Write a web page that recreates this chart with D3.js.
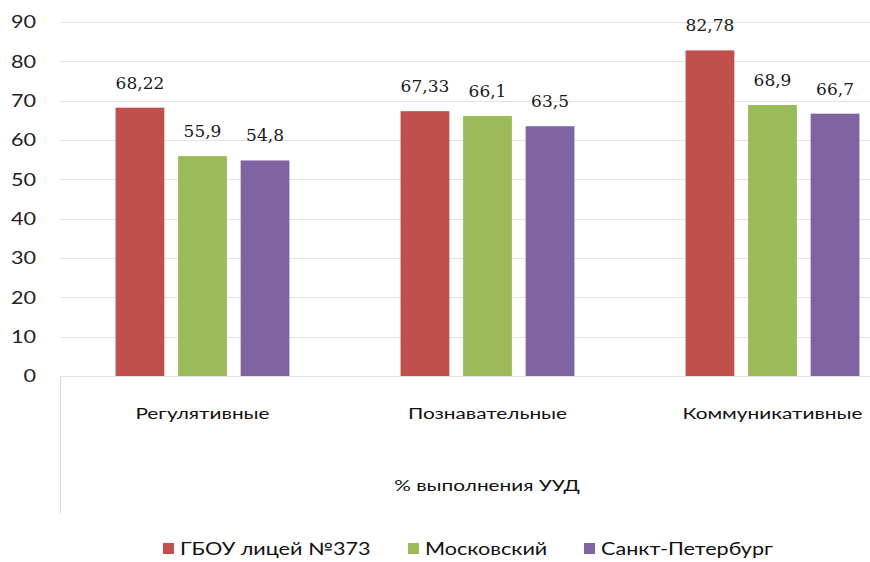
<!DOCTYPE html>
<html>
<head>
<meta charset="utf-8">
<script src="https://cdn.jsdelivr.net/npm/d3@7"></script>
<style>
  body { margin: 0; background: #fff; }
  svg { display: block; }
</style>
</head>
<body>
<div id="chart"></div>
<script>
const categories = ["Регулятивные", "Познавательные", "Коммуникативные"];
const seriesNames = ["ГБОУ лицей №373", "Московский", "Санкт-Петербург"];
const seriesColors = ["#c0504d", "#9bbb59", "#8064a2"];
const valuesLyceum = [68.22, 67.33, 82.78];
const valuesMoscow = [55.9, 66.1, 68.9];
const valuesSpb = [54.8, 63.5, 66.7];
const yTicks = [0, 10, 20, 30, 40, 50, 60, 70, 80, 90];
const axisTitle = "% выполнения УУД";

const width = 870, height = 562;
const margin = { top: 22, left: 60, bottom: 186 };
const sans = "Lato, 'Open Sans', sans-serif";
const stretch = 1.3; // the original text is drawn horizontally stretched

const series = [valuesLyceum, valuesMoscow, valuesSpb];
const data = categories.map((c, i) => ({
  category: c,
  values: series.map((s, j) => ({ name: seriesNames[j], value: s[i], j }))
}));

const svg = d3.select("#chart").append("svg")
  .attr("width", width)
  .attr("height", height);

const y = d3.scaleLinear()
  .domain([0, 90])
  .range([376, margin.top]);

// the plot runs a bit past the right edge of the picture
const x0 = d3.scaleBand()
  .domain(categories)
  .range([margin.left, 915])
  .paddingInner(0)
  .paddingOuter(0);

const x1 = d3.scaleBand()
  .domain(d3.range(series.length))
  .range([0, x0.bandwidth() * 0.61])
  .paddingInner(0.22);

const groupOffset = (x0.bandwidth() - x1.range()[1]) / 2;

// gridlines
svg.append("g")
  .selectAll("line")
  .data(yTicks)
  .join("line")
  .attr("x1", margin.left)
  .attr("x2", width)
  .attr("y1", d => Math.round(y(d)) + 0.5)
  .attr("y2", d => Math.round(y(d)) + 0.5)
  .attr("stroke", "#e3e3e3")
  .attr("stroke-width", 1.2);

// y tick labels
svg.append("g")
  .selectAll("text")
  .data(yTicks)
  .join("text")
  .attr("transform", d => `translate(36,${y(d)}) scale(1.2,1)`)
  .attr("dy", "0.36em")
  .attr("text-anchor", "end")
  .attr("font-family", sans)
  .attr("font-size", 18)
  .attr("fill", "#222")
  .text(d => d);

// vertical axis line of the category axis
svg.append("line")
  .attr("x1", margin.left + 0.5)
  .attr("x2", margin.left + 0.5)
  .attr("y1", y(0))
  .attr("y2", 513)
  .attr("stroke", "#d9d9d9")
  .attr("stroke-width", 1);

const groups = svg.append("g")
  .selectAll("g")
  .data(data)
  .join("g")
  .attr("transform", d => `translate(${x0(d.category) + groupOffset},0)`);

groups.selectAll("rect")
  .data(d => d.values)
  .join("rect")
  .attr("x", d => x1(d.j))
  .attr("y", d => y(d.value))
  .attr("width", x1.bandwidth())
  .attr("height", d => y(0) - y(d.value))
  .attr("fill", d => seriesColors[d.j]);

const fmt = v => String(v).replace(".", ",");

groups.selectAll("text")
  .data(d => d.values)
  .join("text")
  .attr("x", d => x1(d.j) + x1.bandwidth() / 2)
  .attr("y", d => y(d.value) - 19)
  .attr("text-anchor", "middle")
  .attr("font-family", "'DejaVu Serif', 'Liberation Serif', serif")
  .attr("font-size", 17)
  .attr("fill", "#1a1a1a")
  .text(d => fmt(d.value));

// category labels
svg.append("g")
  .selectAll("text")
  .data(categories)
  .join("text")
  .attr("transform", d => `translate(${x0(d) + x0.bandwidth() / 2},419) scale(${stretch},1)`)
  .attr("text-anchor", "middle")
  .attr("font-family", sans)
  .attr("font-size", 16)
  .attr("fill", "#111")
  .text(d => d);

// axis title
svg.append("text")
  .attr("transform", `translate(487,491) scale(${stretch},1)`)
  .attr("text-anchor", "middle")
  .attr("font-family", sans)
  .attr("font-size", 16)
  .attr("fill", "#111")
  .text(axisTitle);

// legend
const legendX = [163, 408, 584];
const legend = svg.append("g")
  .selectAll("g")
  .data(seriesNames)
  .join("g")
  .attr("transform", (d, i) => `translate(${legendX[i]},549)`);

legend.append("rect")
  .attr("x", 0)
  .attr("y", -6)
  .attr("width", 11)
  .attr("height", 11)
  .attr("fill", (d, i) => seriesColors[i]);

legend.append("text")
  .attr("transform", `translate(17,0) scale(1.27,1)`)
  .attr("dy", "0.36em")
  .attr("font-family", sans)
  .attr("font-size", 17)
  .attr("fill", "#111")
  .text(d => d);
</script>
</body>
</html>
